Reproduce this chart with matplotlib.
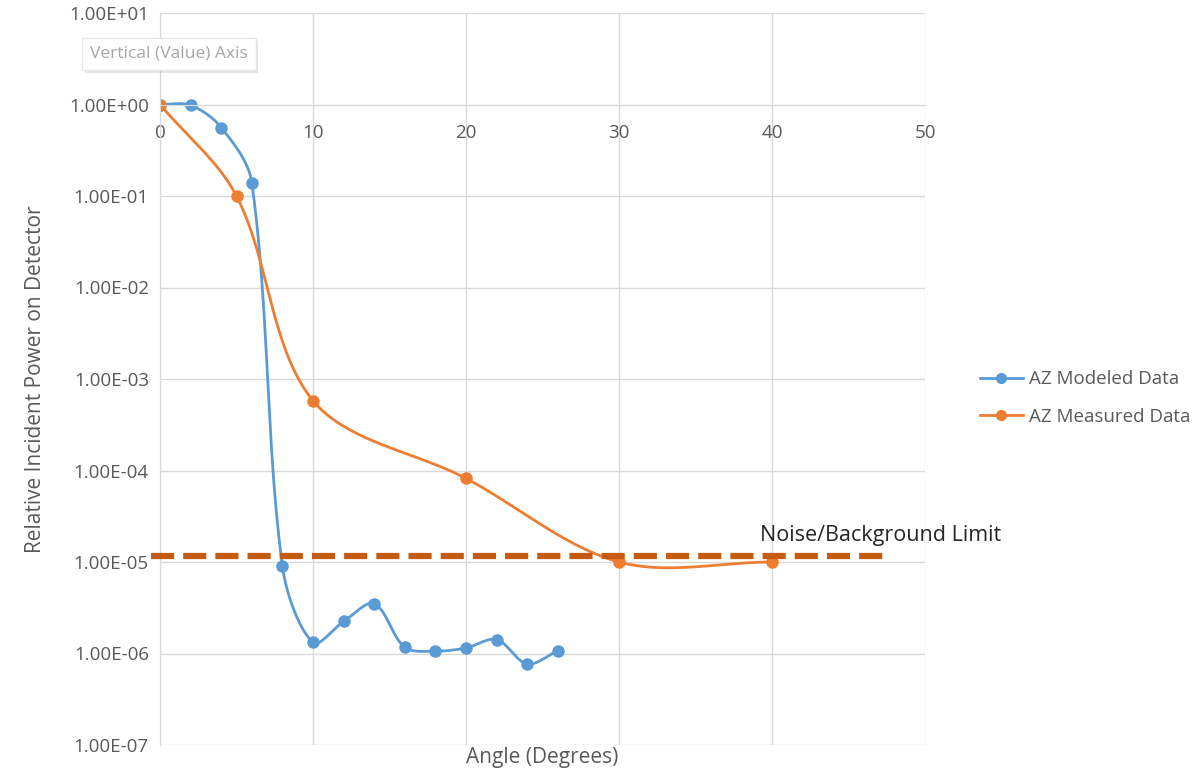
import numpy as np
import matplotlib.pyplot as plt
import matplotlib.patheffects as pe
from matplotlib.ticker import FixedLocator, FuncFormatter

# data
mod_angle = [0, 2, 4, 6, 8, 10, 12, 14, 16, 18, 20, 22, 24, 26]
mod_power = [1.0, 0.98, 0.56, 0.14, 9.0e-6, 1.32e-6, 2.24e-6, 3.5e-6,
             1.17e-6, 1.06e-6, 1.15e-6, 1.42e-6, 0.77e-6, 1.07e-6]
meas_angle = [0, 5, 10, 20, 30, 40]
meas_power = [1.0, 0.1, 5.8e-4, 8.2e-5, 1.0e-5, 1.0e-5]
noise_level = 1.15e-5
noise_span = [-0.6, 47.6]
y_ticks = [1e-7, 1e-6, 1e-5, 1e-4, 1e-3, 1e-2, 1e-1, 1e0, 1e1]
x_ticks = [0, 10, 20, 30, 40, 50]

BLUE = '#5B9BD5'
ORANGE = '#ED7D31'
DARK_ORANGE = '#C55A11'
GRID = '#D9D9D9'
TXT = '#595959'

plt.rcParams['font.family'] = ['Open Sans', 'DejaVu Sans']

# rough pixel scale of the plot, used so the smoothing behaves like Excel's
SX, SY = 15.3, 91.5


def smooth(xs, ys, n=40):
    # bezier smoothing in screen-like space (x, log10 y), arms weighted by segment length
    p = np.column_stack([np.asarray(xs, float) * SX, np.log10(ys) * SY])
    m = len(p)
    outx, outy = [], []
    t = np.linspace(0, 1, n)[:, None]
    fwd, bwd = [], []
    for i in range(m):
        a = p[max(i - 1, 0)]
        b = p[min(i + 1, m - 1)]
        dp = np.hypot(*(p[i] - a))
        dn = np.hypot(*(b - p[i]))
        tot = dp + dn if dp + dn > 0 else 1
        fwd.append(p[i] + (b - a) * dn / tot / 3)
        bwd.append(p[i] - (b - a) * dp / tot / 3)
    for i in range(m - 1):
        p0, c1, c2, p3 = p[i], fwd[i], bwd[i + 1], p[i + 1]
        bz = (1 - t) ** 3 * p0 + 3 * (1 - t) ** 2 * t * c1 + 3 * (1 - t) * t ** 2 * c2 + t ** 3 * p3
        outx.extend(bz[:, 0] / SX)
        outy.extend(bz[:, 1] / SY)
    return np.array(outx), 10 ** np.array(outy)


fig = plt.figure(figsize=(12.01, 7.80), dpi=100)
ax = fig.add_axes([160 / 1201, 1 - 745 / 780, 765 / 1201, 732 / 780])
ax.set_yscale('log')
ax.set_xlim(0, 50)
ax.set_ylim(1e-7, 1e1)

ax.yaxis.set_major_locator(FixedLocator(y_ticks))
ax.yaxis.set_minor_locator(FixedLocator([]))
ax.yaxis.set_major_formatter(FuncFormatter(lambda v, p: '%.2E' % v))
ax.xaxis.set_major_locator(FixedLocator(x_ticks))
ax.grid(True, color=GRID, linewidth=1)
ax.set_axisbelow(True)

for s in ['top', 'right']:
    ax.spines[s].set_visible(False)
ax.spines['bottom'].set_position(('data', 1))
ax.spines['bottom'].set_color(GRID)
ax.spines['left'].set_color(GRID)
ax.tick_params(length=0, labelsize=13.5, labelcolor=TXT)
ax.tick_params(axis='x', pad=14)
ax.tick_params(axis='y', pad=8)

sx, sy = smooth(mod_angle, mod_power)
ax.plot(sx, sy, color=BLUE, linewidth=2)
ax.plot(mod_angle, mod_power, 'o', color=BLUE, markersize=8, label='AZ Modeled Data')
sx, sy = smooth(meas_angle, meas_power)
ax.plot(sx, sy, color=ORANGE, linewidth=2)
ax.plot(meas_angle, meas_power, 'o', color=ORANGE, markersize=8)

ax.plot(noise_span, [noise_level, noise_level], color=DARK_ORANGE, linewidth=4.5,
        dashes=(3.7, 1.45), clip_on=False, zorder=5)
ax.text(39.2, 1.5e-5, 'Noise/Background Limit', fontsize=15.5, color='#262626', va='bottom')

ax.set_xlabel('Angle (Degrees)', fontsize=15, color=TXT)
ax.xaxis.set_label_coords(0.5, -0.003)
ax.set_ylabel('Relative Incident Power on Detector', fontsize=15, color=TXT)
ax.yaxis.set_label_coords(-0.149, 0.5)

h1, = ax.plot([], [], '-o', color=BLUE, linewidth=2, markersize=7)
h2, = ax.plot([], [], '-o', color=ORANGE, linewidth=2, markersize=7)
fig.legend([h1, h2], ['AZ Modeled Data', 'AZ Measured Data'], loc='center left',
           bbox_to_anchor=(963 / 1201, 1 - 398 / 780), frameon=False, fontsize=13.5,
           labelcolor=TXT, labelspacing=1.05, handlelength=2.3, handletextpad=0.3)

# the chart-tooltip box left in the screenshot
tip = fig.text(90 / 1201, 1 - 54 / 780, 'Vertical (Value) Axis', fontsize=12.5, color='#A6A6A6',
               va='center', bbox=dict(boxstyle='square,pad=0.45', facecolor='white',
                                      edgecolor='#E6E6E6'))
tip.get_bbox_patch().set_path_effects([pe.SimplePatchShadow(offset=(2, -2), alpha=0.15),
                                       pe.Normal()])

fig.savefig('out.png', dpi=100)
